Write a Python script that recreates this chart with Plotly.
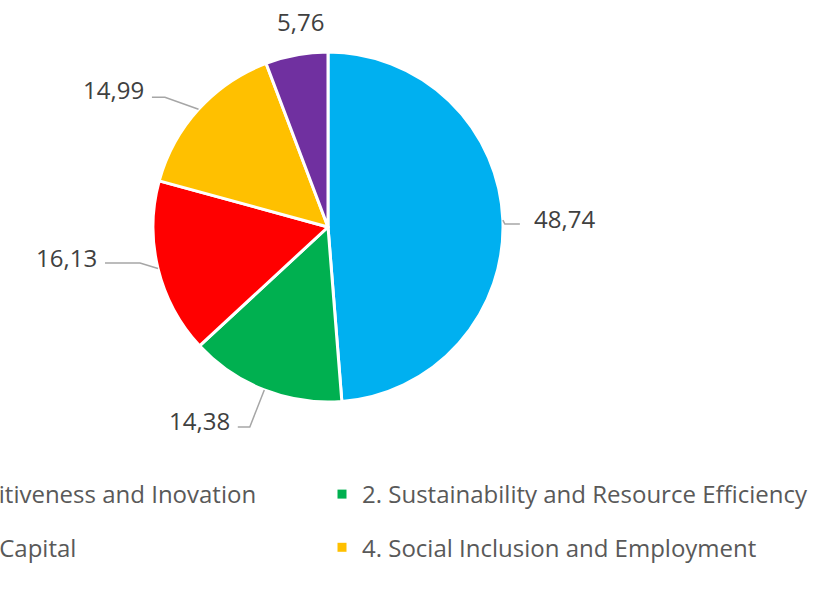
import math
import plotly.graph_objects as go

# ---------------- data ----------------
categories = [
    "1. Competitiveness and Inovation",
    "2. Sustainability and Resource Efficiency",
    "3. Human Capital",
    "4. Social Inclusion and Employment",
    "5. Technical Assistance",
]
values = [48.74, 14.38, 16.13, 14.99, 5.76]
value_labels = ["48,74", "14,38", "16,13", "14,99", "5,76"]
colors = ["#00B0F0", "#00B050", "#FF0000", "#FFC000", "#7030A0"]

# legend columns (which categories are shown in which legend column)
legend_col1 = [0, 2]
legend_col2 = [1, 3]

# ---------------- layout constants (px) ----------------
W, H = 840, 608
CX, CY, R = 328, 227, 175          # pie centre / radius
# leader line styling: elbow offset from slice edge (px), horizontal run (px)
elbow = [(2, 4), (-14.5, 37), (-18, -5.5), (-33.6, -12), None]
hrun = [15, -12, -35, -13, 0]
label_dy = [-6, -6, -6, -8, 0]
purple_label_offset = (3.5, -33)

def px(x):
    return x / W

def py(y):
    return 1 - y / H

fig = go.Figure()

fig.add_trace(go.Pie(
    labels=categories,
    values=values,
    sort=False,
    direction="clockwise",
    rotation=0,
    marker=dict(colors=colors, line=dict(color="white", width=3)),
    textinfo="none",
    showlegend=False,
    domain=dict(x=[px(CX - R), px(CX + R)], y=[py(CY + R), py(CY - R)]),
))

# dummy traces to build the two legend columns
for col, legend_id in ((legend_col1, "legend"), (legend_col2, "legend2")):
    for i in col:
        fig.add_trace(go.Scatter(
            x=[None], y=[None], mode="markers",
            marker=dict(symbol="square", size=9, color=colors[i]),
            name=categories[i], legend=legend_id, legendgroup=f"g{i}",
            hoverinfo="skip",
        ))

# ---------------- data labels with leader lines ----------------
total = sum(values)
cum = 0.0
annotations = []
shapes = []
for i, v in enumerate(values):
    mid = (cum + v / 2) / total * 2 * math.pi
    cum += v
    ex = CX + R * math.sin(mid)
    ey = CY - R * math.cos(mid)
    if elbow[i] is None:
        lx, ly = ex + purple_label_offset[0], ey + purple_label_offset[1]
        annotations.append(dict(
            x=px(lx), y=py(ly), xref="paper", yref="paper",
            text=value_labels[i], showarrow=False,
            xanchor="center", yanchor="middle",
            font=dict(family="Open Sans", size=24, color="#404040"),
        ))
        continue
    bx, by = ex + elbow[i][0], ey + elbow[i][1]
    hx, hy = bx + hrun[i], by
    shapes.append(dict(
        type="path", xref="paper", yref="paper",
        path=f"M {px(ex)},{py(ey)} L {px(bx)},{py(by)} L {px(hx)},{py(hy)}",
        line=dict(color="#A6A6A6", width=1.5),
    ))
    right_side = hrun[i] > 0
    annotations.append(dict(
        x=px(hx + (12 if right_side else -6)), y=py(hy + label_dy[i]),
        xref="paper", yref="paper",
        text=value_labels[i], showarrow=False,
        xanchor="left" if right_side else "right", yanchor="middle",
        font=dict(family="Open Sans", size=24, color="#404040"),
    ))

legend_common = dict(
    orientation="v",
    font=dict(family="Open Sans", size=24, color="#595959"),
    bgcolor="rgba(0,0,0,0)",
    tracegroupgap=19,
    xanchor="left", yanchor="top",
    xref="paper", yref="paper",
    itemclick=False, itemdoubleclick=False,
)

fig.update_layout(
    width=W, height=H,
    margin=dict(l=0, r=0, t=0, b=0, autoexpand=False),
    paper_bgcolor="white", plot_bgcolor="white",
    xaxis=dict(visible=False), yaxis=dict(visible=False),
    annotations=annotations, shapes=shapes,
    legend=dict(x=-0.1857, y=py(472), **legend_common),
    legend2=dict(x=px(322), y=py(472), **legend_common),
    font=dict(family="Open Sans"),
)

fig.write_html("out.html")
